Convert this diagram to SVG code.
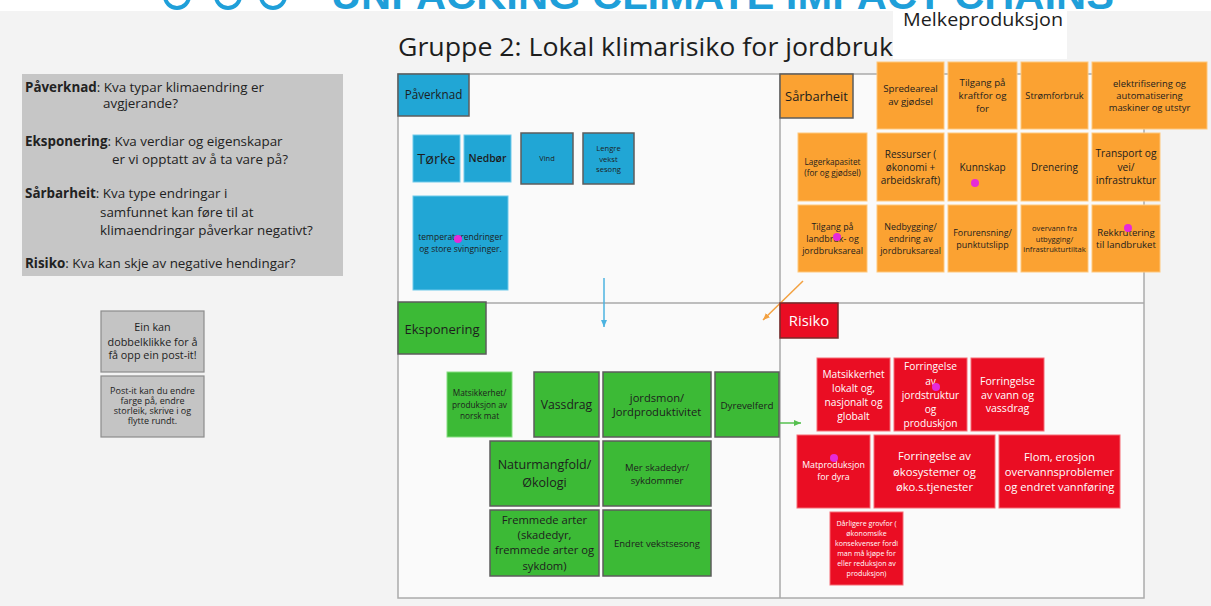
<svg xmlns="http://www.w3.org/2000/svg" width="1211" height="606" viewBox="0 0 1211 606">
<defs>
<style>
.t{font-family:"Open Sans","Liberation Sans",sans-serif;fill:#1d1d1d;text-anchor:middle}
.w{fill:#ffffff}
.b{fill:#21a6d5}
.o{fill:#fba232}
.g{fill:#3cba36}
.r{fill:#ea0d23}
.lb{stroke:#6fc9ea;stroke-width:1}
.lo{stroke:#ffc77a;stroke-width:1}
.lg{stroke:#86de80;stroke-width:1}
.lr{stroke:#f56a74;stroke-width:1}
.db{stroke:#5c5c5c;stroke-width:1.5}
.dot{fill:#e62ad8}
.gl{font-family:"Open Sans","Liberation Sans",sans-serif;fill:#222;font-size:13.4px}
.ar{fill:none;stroke-width:1.5}
</style>
<marker id="mb" markerUnits="userSpaceOnUse" markerWidth="7" markerHeight="6" refX="7" refY="3" orient="auto"><path d="M0,0 L7,3 L0,6 z" fill="#4cb3e0"/></marker>
<marker id="mo" markerUnits="userSpaceOnUse" markerWidth="7" markerHeight="6" refX="7" refY="3" orient="auto"><path d="M0,0 L7,3 L0,6 z" fill="#f3a140"/></marker>
<marker id="mg" markerUnits="userSpaceOnUse" markerWidth="7" markerHeight="6" refX="7" refY="3" orient="auto"><path d="M0,0 L7,3 L0,6 z" fill="#56c04f"/></marker>
</defs>

<rect x="0" y="0" width="1211" height="606" fill="#f3f3f3"/>
<rect x="0" y="0" width="1211" height="11" fill="#ffffff"/>

<g id="header">
<circle cx="177" cy="-4" r="12" fill="none" stroke="#1f9fd9" stroke-width="4"/>
<circle cx="228" cy="-4" r="12" fill="none" stroke="#1f9fd9" stroke-width="4"/>
<circle cx="273" cy="-4" r="12" fill="none" stroke="#1f9fd9" stroke-width="4"/>
<text x="331" y="9" font-family="Liberation Sans, Arial, sans-serif" font-weight="bold" font-size="41" fill="#1f9fd9" textLength="783" lengthAdjust="spacingAndGlyphs">UNPACKING CLIMATE IMPACT CHAINS</text>
</g>

<rect x="893" y="11" width="174" height="48" fill="#ffffff"/>
<text x="903" y="26" font-family="Open Sans, Liberation Sans, sans-serif" font-size="17.5" fill="#1d1d1d" textLength="160" lengthAdjust="spacingAndGlyphs">Melkeproduksjon</text>
<text x="398" y="56" font-family="Open Sans, Liberation Sans, sans-serif" font-size="25" fill="#1d1d1d" textLength="495" lengthAdjust="spacingAndGlyphs">Gruppe 2: Lokal klimarisiko for jordbruk</text>

<g id="info">
<rect x="22" y="74" width="321" height="202" fill="#c6c6c6"/>
<text class="gl" x="25" y="92"><tspan font-weight="bold">Påverknad</tspan>: Kva typar klimaendring er</text>
<text class="gl" x="103" y="108">avgjerande?</text>
<text class="gl" x="25" y="146"><tspan font-weight="bold">Eksponering</tspan>: Kva verdiar og eigenskapar</text>
<text class="gl" x="112" y="164">er vi opptatt av å ta vare på?</text>
<text class="gl" x="25" y="197.5"><tspan font-weight="bold">Sårbarheit</tspan>: Kva type endringar i</text>
<text class="gl" x="100" y="216.5">samfunnet kan føre til at</text>
<text class="gl" x="100" y="235">klimaendringar påverkar negativt?</text>
<text class="gl" x="25" y="268"><tspan font-weight="bold">Risiko</tspan>: Kva kan skje av negative hendingar?</text>
</g>

<g id="hint1">
<rect x="101" y="311" width="103" height="61" fill="#c4c4c4" stroke="#8c8c8c" stroke-width="1.2"/>
<text class="t" font-size="10.8" fill="#333"><tspan x="152.5" y="330.5">Ein kan</tspan><tspan x="152.5" y="345.5">dobbelklikke for å</tspan><tspan x="152.5" y="359">få opp ein post-it!</tspan></text>
</g>
<g id="hint2">
<rect x="101" y="376" width="103" height="61" fill="#c4c4c4" stroke="#8c8c8c" stroke-width="1.2"/>
<text class="t" font-size="9"><tspan x="152.5" y="393.5">Post-it kan du endre</tspan><tspan x="152.5" y="403.7">farge på, endre</tspan><tspan x="152.5" y="413.9">storleik, skrive i og</tspan><tspan x="152.5" y="424.1">flytte rundt.</tspan></text>
</g>

<g id="board">
<rect x="398" y="74" width="746" height="524" fill="#fafafa" stroke="#ababab" stroke-width="1.5"/>
<line x1="780" y1="74" x2="780" y2="598" stroke="#a8a8a8" stroke-width="1.5"/>
<line x1="398" y1="303" x2="1144" y2="303" stroke="#a8a8a8" stroke-width="1.5"/>
</g>

<g id="connectors">
<path class="ar" d="M604,278 L604,327" stroke="#4cb3e0" marker-end="url(#mb)"/>
<path class="ar" d="M803,281 L763,320" stroke="#f3a140" marker-end="url(#mo)"/>
<path class="ar" d="M780,423 L801,423" stroke="#56c04f" marker-end="url(#mg)"/>
</g>

<!-- Påverknad -->
<g id="paverknad-label"><rect class="b db" x="398" y="74" width="71" height="42"/><text class="t" x="433.5" y="99" font-size="11.7">Påverknad</text></g>
<g id="torke"><rect class="b lb" x="413" y="135" width="47" height="47"/><text class="t" x="436.5" y="164" font-size="14.5">Tørke</text></g>
<g id="nedbor"><rect class="b lb" x="464" y="135" width="47" height="47"/><text class="t" x="487.5" y="162.3" font-size="10.4" font-weight="600">Nedbør</text></g>
<g id="vind"><rect class="b db" x="521" y="133" width="52" height="51"/><text class="t" x="547" y="161.2" font-size="7.5">Vind</text></g>
<g id="lengre"><rect class="b db" x="583" y="133" width="51" height="51"/><text class="t" font-size="7.6"><tspan x="608.5" y="150.7">Lengre</tspan><tspan x="608.5" y="161.7">vekst</tspan><tspan x="608.5" y="171.7">sesong</tspan></text></g>
<g id="temperatur"><rect class="b lb" x="413" y="196" width="95" height="94"/><text class="t" font-size="8.5"><tspan x="460.5" y="239.7">temperaturendringer</tspan><tspan x="460.5" y="252">og store svingninger.</tspan></text><circle class="dot" cx="458" cy="239" r="4"/></g>

<!-- Sårbarheit -->
<g id="sarbarheit-label"><rect class="o db" x="780" y="74" width="73" height="44"/><text class="t" x="816.5" y="101.3" font-size="12.9">Sårbarheit</text></g>
<g id="spredeareal"><rect class="o lo" x="877" y="62" width="67" height="67"/><text class="t" font-size="9.7"><tspan x="910.5" y="91.8">Spredeareal</tspan><tspan x="910.5" y="105.2">av gjødsel</tspan></text></g>
<g id="kraftfor"><rect class="o lo" x="948" y="62" width="69" height="67"/><text class="t" font-size="9.7"><tspan x="982.5" y="85.9">Tilgang på</tspan><tspan x="982.5" y="98.9">kraftfor og</tspan><tspan x="982.5" y="111.9">for</tspan></text></g>
<g id="stromforbruk"><rect class="o lo" x="1021" y="62" width="67" height="67"/><text class="t" x="1054.5" y="99" font-size="9.2">Strømforbruk</text></g>
<g id="elektrifisering"><rect class="o lo" x="1092" y="62" width="115" height="67"/><text class="t" font-size="9.4"><tspan x="1149.5" y="86.6">elektrifisering og</tspan><tspan x="1149.5" y="99">automatisering</tspan><tspan x="1149.5" y="111">maskiner og utstyr</tspan></text></g>
<g id="lagerkapasitet"><rect class="o lo" x="798" y="133" width="69" height="68"/><text class="t" font-size="8.2"><tspan x="832.5" y="164.6">Lagerkapasitet</tspan><tspan x="832.5" y="176.2">(for og gjødsel)</tspan></text></g>
<g id="ressurser"><rect class="o lo" x="877" y="133" width="67" height="68"/><text class="t" font-size="10"><tspan x="910.5" y="157.5">Ressurser (</tspan><tspan x="910.5" y="170.8">økonomi +</tspan><tspan x="910.5" y="184.2">arbeidskraft)</tspan></text></g>
<g id="kunnskap"><rect class="o lo" x="948" y="133" width="69" height="68"/><text class="t" x="982.5" y="170.8" font-size="10">Kunnskap</text><circle class="dot" cx="975" cy="183" r="4"/></g>
<g id="drenering"><rect class="o lo" x="1021" y="133" width="67" height="68"/><text class="t" x="1054.5" y="170.8" font-size="10">Drenering</text></g>
<g id="transport"><rect class="o lo" x="1092" y="133" width="68" height="68"/><text class="t" font-size="10.2"><tspan x="1126" y="156.9">Transport og</tspan><tspan x="1126" y="170.9">vei/</tspan><tspan x="1126" y="184.3">infrastruktur</tspan></text></g>
<g id="landbruksareal"><rect class="o lo" x="798" y="205" width="69" height="67"/><text class="t" font-size="8.9"><tspan x="832.5" y="230.4">Tilgang på</tspan><tspan x="832.5" y="242.1">landbruk- og</tspan><tspan x="832.5" y="253.8">jordbruksareal</tspan></text><circle class="dot" cx="837" cy="237" r="4"/></g>
<g id="nedbygging"><rect class="o lo" x="877" y="205" width="67" height="67"/><text class="t" font-size="8.9"><tspan x="910.5" y="230.4">Nedbygging/</tspan><tspan x="910.5" y="242.1">endring av</tspan><tspan x="910.5" y="253.8">jordbruksareal</tspan></text></g>
<g id="forurensning"><rect class="o lo" x="948" y="205" width="69" height="67"/><text class="t" font-size="8.9"><tspan x="982.5" y="236.4">Forurensning/</tspan><tspan x="982.5" y="248.1">punktutslipp</tspan></text></g>
<g id="overvann"><rect class="o lo" x="1021" y="205" width="67" height="67"/><text class="t" font-size="7.6"><tspan x="1054.5" y="231">overvann fra</tspan><tspan x="1054.5" y="241.7">utbygging/</tspan><tspan x="1054.5" y="251.7">infrastrukturtiltak</tspan></text></g>
<g id="rekkrutering"><rect class="o lo" x="1092" y="205" width="68" height="67"/><text class="t" font-size="9.6"><tspan x="1126" y="236">Rekkrutering</tspan><tspan x="1126" y="247.6">til landbruket</tspan></text><circle class="dot" cx="1128" cy="228" r="4"/></g>

<!-- Eksponering -->
<g id="eksponering-label"><rect class="g db" x="398" y="302" width="88" height="52"/><text class="t" x="442" y="333.6" font-size="13">Eksponering</text></g>
<g id="matsikkerhet"><rect class="g lg" x="447" y="372" width="65" height="65"/><text class="t" font-size="8.3"><tspan x="479.5" y="396.3">Matsikkerhet/</tspan><tspan x="479.5" y="408">produksjon av</tspan><tspan x="479.5" y="418.7">norsk mat</tspan></text></g>
<g id="vassdrag"><rect class="g db" x="534" y="372" width="65" height="65"/><text class="t" x="566.5" y="409.3" font-size="12.2">Vassdrag</text></g>
<g id="jordsmon"><rect class="g db" x="603" y="372" width="108" height="65"/><text class="t" font-size="11.2"><tspan x="657" y="402.3">jordsmon/</tspan><tspan x="657" y="416.3">Jordproduktivitet</tspan></text></g>
<g id="dyrevelferd"><rect class="g db" x="715" y="372" width="64" height="65"/><text class="t" x="747" y="408.5" font-size="9.8">Dyrevelferd</text></g>
<g id="naturmangfold"><rect class="g db" x="490" y="441" width="109" height="65"/><text class="t" font-size="12.5"><tspan x="544.5" y="469.4">Naturmangfold/</tspan><tspan x="544.5" y="486.7">Økologi</tspan></text></g>
<g id="skadedyr"><rect class="g db" x="603" y="441" width="108" height="65"/><text class="t" font-size="9.5"><tspan x="657" y="470.6">Mer skadedyr/</tspan><tspan x="657" y="484">sykdommer</tspan></text></g>
<g id="fremmede"><rect class="g db" x="490" y="510" width="109" height="66"/><text class="t" font-size="11.2"><tspan x="544.5" y="524">Fremmede arter</tspan><tspan x="544.5" y="539">(skadedyr,</tspan><tspan x="544.5" y="554">fremmede arter og</tspan><tspan x="544.5" y="570">sykdom)</tspan></text></g>
<g id="vekstsesong"><rect class="g db" x="603" y="510" width="108" height="66"/><text class="t" x="657" y="546.7" font-size="9.5">Endret vekstsesong</text></g>

<!-- Risiko -->
<g id="risiko-label"><rect class="r" x="780" y="303" width="58" height="35" stroke="#7a2a2a" stroke-width="1.5"/><text class="t w" x="809" y="326.2" font-size="14.8">Risiko</text></g>
<g id="matsikkerhet-lokalt"><rect class="r lr" x="817" y="358" width="73" height="73"/><text class="t w" font-size="10.2"><tspan x="853.5" y="377.6">Matsikkerhet</tspan><tspan x="853.5" y="391.9">lokalt og,</tspan><tspan x="853.5" y="406.3">nasjonalt og</tspan><tspan x="853.5" y="419.6">globalt</tspan></text></g>
<g id="jordstruktur"><rect class="r lr" x="894" y="358" width="73" height="73"/><text class="t w" font-size="10.2"><tspan x="930.5" y="370.3">Forringelse</tspan><tspan x="930.5" y="384.6">av</tspan><tspan x="930.5" y="398.6">jordstruktur</tspan><tspan x="930.5" y="412.9">og</tspan><tspan x="930.5" y="426.9">produskjon</tspan></text><circle class="dot" cx="936" cy="387" r="4"/></g>
<g id="vann"><rect class="r lr" x="971" y="358" width="73" height="73"/><text class="t w" font-size="10.6"><tspan x="1007.5" y="384.7">Forringelse</tspan><tspan x="1007.5" y="398.7">av vann og</tspan><tspan x="1007.5" y="412">vassdrag</tspan></text></g>
<g id="matproduksjon"><rect class="r lr" x="797" y="435" width="73" height="73"/><text class="t w" font-size="8.8"><tspan x="833.5" y="468.1">Matproduksjon</tspan><tspan x="833.5" y="480.4">for dyra</tspan></text><circle class="dot" cx="834" cy="458" r="4"/></g>
<g id="okosystemer"><rect class="r lr" x="874" y="435" width="121" height="73"/><text class="t w" font-size="11.2"><tspan x="934.5" y="460">Forringelse av</tspan><tspan x="934.5" y="475.7">økosystemer og</tspan><tspan x="934.5" y="490.7">øko.s.tjenester</tspan></text></g>
<g id="flom"><rect class="r lr" x="999" y="435" width="121" height="73"/><text class="t w" font-size="11.2"><tspan x="1059.5" y="460.6">Flom, erosjon</tspan><tspan x="1059.5" y="475.6">overvannsproblemer</tspan><tspan x="1059.5" y="490.6">og endret vannføring</tspan></text></g>
<g id="grovfor"><rect class="r lr" x="830" y="512" width="73" height="73"/><text class="t w" font-size="7.1"><tspan x="866.5" y="525.8">Dårligere grovfor (</tspan><tspan x="866.5" y="535.8">økonomsike</tspan><tspan x="866.5" y="545.8">konsekvenser fordi</tspan><tspan x="866.5" y="555.8">man må kjøpe for</tspan><tspan x="866.5" y="565.8">eller reduksjon av</tspan><tspan x="866.5" y="575.8">produksjon)</tspan></text></g>
</svg>
